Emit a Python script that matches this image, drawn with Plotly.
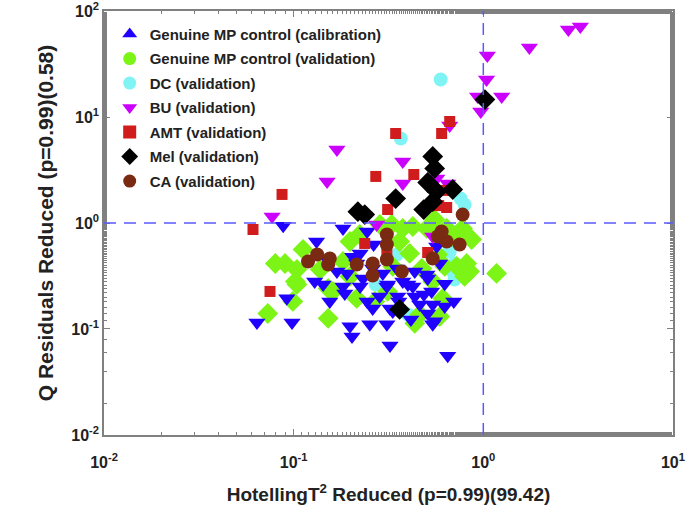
import plotly.graph_objects as go

# Genuine MP control (calibration)
cal_x = [0.088, 0.182, 0.132, 0.205, 0.244, 0.264, 0.224, 0.568, 0.129, 0.143,
         0.169, 0.191, 0.182, 0.232, 0.261, 0.295, 0.350, 0.376, 0.425, 0.504,
         0.534, 0.310, 0.244, 0.261, 0.322, 0.358, 0.462, 0.541, 0.064, 0.092,
         0.098, 0.198, 0.203, 0.252, 0.310, 0.322, 0.541, 0.186, 0.649, 0.333,
         0.509, 0.554, 0.486, 0.435, 0.313, 0.400, 0.509, 0.435, 0.354, 0.215,
         0.589, 0.626, 0.284, 0.150, 0.224, 0.354, 0.415, 0.626, 0.699, 0.155]
cal_y = [0.944, 0.886, 0.669, 0.480, 0.832, 0.627, 0.515, 0.600, 0.281, 0.263,
         0.349, 0.334, 0.251, 0.300, 0.373, 0.334, 0.373, 0.281, 0.251, 0.327,
         0.226, 0.251, 0.182, 0.156, 0.156, 0.182, 0.170, 0.170, 0.115, 0.195,
         0.115, 0.106, 0.085, 0.111, 0.111, 0.070, 0.111, 0.216, 0.056, 0.146,
         0.140, 0.118, 0.211, 0.203, 0.263, 0.263, 0.300, 0.349, 0.365, 0.415,
         0.415, 0.267, 0.203, 0.453, 0.251, 0.203, 0.123, 0.163, 0.182, 0.182]

# Genuine MP control (validation)
val_x = [0.080, 0.090, 0.104, 0.112, 0.102, 0.099, 0.073, 0.152, 0.161, 0.182,
         0.152, 0.198, 0.223, 0.285, 0.329, 0.376, 0.425, 0.362, 0.409, 0.333,
         0.541, 0.589, 0.435, 0.724, 0.817, 0.868, 0.778, 0.641, 0.847, 1.175,
         0.611, 0.462, 0.503, 0.554, 0.474, 0.575, 0.626, 0.681, 0.215, 0.104,
         0.797, 0.268, 0.313, 0.138, 0.198]
val_y = [0.415, 0.415, 0.364, 0.562, 0.281, 0.182, 0.140, 0.126, 0.226, 0.433,
         0.241, 0.669, 0.779, 0.968, 0.968, 0.888, 0.927, 0.669, 0.516, 0.389,
         0.281, 0.131, 0.113, 0.389, 0.415, 0.699, 0.888, 0.888, 0.349, 0.334,
         0.194, 0.137, 0.888, 1.08, 0.372, 0.505, 0.389, 0.746, 0.194, 0.263,
         0.313, 0.182, 0.226, 0.364, 0.313]

# DC (validation)
dc_x = [0.596, 0.367, 0.760, 0.797, 0.681, 0.633, 0.665, 0.690, 0.706, 0.350,
        0.400, 0.271, 0.706]
dc_y = [22.6, 6.27, 1.70, 1.49, 0.832, 0.669, 0.538, 0.349, 0.293, 0.505,
        0.137, 0.263, 0.415]

# BU (validation)
bu_x = [2.81, 3.25, 1.75, 1.05, 1.04, 0.933, 1.25, 0.97, 0.665, 0.169,
        0.150, 0.376, 0.376, 0.568, 0.649, 0.0769, 0.274, 0.541]
bu_y = [66.9, 71.4, 45.2, 38.0, 22.6, 15.6, 15.6, 11.3, 8.32, 4.94,
        2.46, 3.80, 2.36, 2.63, 2.36, 1.15, 0.968, 0.746]

# AMT (validation)
amt_x = [0.061, 0.075, 0.0868, 0.271, 0.345, 0.430, 0.603, 0.665, 0.313, 0.582,
         0.641, 0.626, 0.237, 0.310, 0.509]
amt_y = [0.868, 0.226, 1.86, 2.75, 6.99, 2.87, 6.99, 9.07, 1.34, 1.46,
         1.40, 2.03, 0.641, 0.527, 0.527]

# Mel (validation)
mel_x = [1.02, 0.541, 0.554, 0.509, 0.568, 0.690, 0.541, 0.485, 0.345, 0.218,
         0.237, 0.362]
mel_y = [14.6, 4.24, 3.27, 2.41, 1.98, 2.07, 1.59, 1.34, 1.70, 1.28,
         1.20, 0.153]

# CA (validation)
ca_x = [0.119, 0.133, 0.155, 0.152, 0.215, 0.261, 0.261, 0.310, 0.310, 0.310,
        0.372, 0.575, 0.641, 0.750, 0.541, 0.778, 0.603]
ca_y = [0.433, 0.505, 0.463, 0.406, 0.406, 0.415, 0.320, 0.779, 0.627, 0.453,
        0.349, 0.746, 0.669, 0.627, 0.463, 1.20, 0.832]

t2_limit = 1.0
q_limit = 1.0

BLUE = '#2000ff'
GREEN = '#7cf516'
CYAN = '#80f4f4'
MAGENTA = '#cc00ff'
RED = '#d01c1c'
BLACK = '#000000'
BROWN = '#7a2a12'

fig = go.Figure()

# data traces (drawn order), legend handled separately
series = [
    (dc_x, dc_y, 'circle', CYAN, 14),
    (val_x, val_y, 'diamond', GREEN, 16),
    (cal_x, cal_y, 'triangle-down', BLUE, 15),
    (bu_x, bu_y, 'triangle-down', MAGENTA, 15),
    (amt_x, amt_y, 'square', RED, 11),
    (mel_x, mel_y, 'diamond', BLACK, 16),
    (ca_x, ca_y, 'circle', BROWN, 14),
]
for xs, ys, sym, col, sz in series:
    fig.add_trace(go.Scatter(
        x=xs, y=ys, mode='markers', showlegend=False,
        marker=dict(symbol=sym, color=col, size=sz, line=dict(width=0))
    ))

# legend entries
legend_items = [
    ('Genuine MP control (calibration)', 'triangle-up', BLUE),
    ('Genuine MP control (validation)', 'circle', GREEN),
    ('DC (validation)', 'circle', CYAN),
    ('BU (validation)', 'triangle-down', MAGENTA),
    ('AMT (validation)', 'square', RED),
    ('Mel (validation)', 'diamond', BLACK),
    ('CA (validation)', 'circle', BROWN),
]
for i, (name, sym, col) in enumerate(legend_items):
    fig.add_trace(go.Scatter(
        x=[None], y=[None], mode='markers', name=name, legendgroup=str(i),
        marker=dict(symbol=sym, color=col, size=13, line=dict(width=0))
    ))

# limit lines
dash_line = dict(color='#5a5aff', width=1.5, dash='12px,8px')
fig.add_shape(type='line', xref='x', yref='paper', x0=t2_limit, x1=t2_limit,
              y0=0, y1=1, line=dash_line)
fig.add_shape(type='line', xref='paper', yref='y', x0=0, x1=1,
              y0=q_limit, y1=q_limit, line=dash_line)

tick_font = dict(family='Arial', size=16, color='#222222', weight='bold')
axis_common = dict(
    type='log', showgrid=False, zeroline=False,
    showline=True, linecolor='#808080', linewidth=1.5, mirror='ticks',
    ticks='inside', ticklen=6, tickcolor='#808080',
    minor=dict(ticks='inside', ticklen=3, tickcolor='#808080', showgrid=False),
    tickfont=tick_font, ticklabeloverflow='allow',
)

fig.update_xaxes(
    range=[-2.0005, 1.0005],
    tickvals=[0.01, 0.1, 1, 10],
    ticktext=['10<sup>-2</sup>', '10<sup>-1</sup>', '10<sup>0</sup>', '10<sup>1</sup>'],
    ticklabelstandoff=12,
    title=dict(text='HotellingT<sup>2</sup> Reduced (p=0.99)(99.42)',
               font=dict(family='Arial', size=19, color='#222222', weight='bold'),
               standoff=18),
    **axis_common
)
fig.update_yaxes(
    range=[-2.0005, 2.0005],
    tickvals=[0.01, 0.1, 1, 10, 100],
    ticktext=['10<sup>-2</sup>', '10<sup>-1</sup>', '10<sup>0</sup>', '10<sup>1</sup>', '10<sup>2</sup>'],
    title=dict(text='Q Residuals Reduced (p=0.99)(0.58)',
               font=dict(family='Arial', size=21, color='#222222', weight='bold'),
               standoff=12),
    **axis_common
)

fig.update_layout(
    width=688, height=519,
    template='plotly_white',
    plot_bgcolor='white', paper_bgcolor='white',
    margin=dict(l=104, r=15, t=11, b=84, autoexpand=False),
    legend=dict(
        x=0.01, y=0.984, xanchor='left', yanchor='top',
        bgcolor='rgba(0,0,0,0)', borderwidth=0,
        font=dict(family='Arial', size=15, color='#222222', weight='bold'),
        traceorder='grouped', tracegroupgap=2,
    ),
)

fig.write_html("out.html", config={'displayModeBar': False},
               post_script="document.body.style.margin='0px';")
